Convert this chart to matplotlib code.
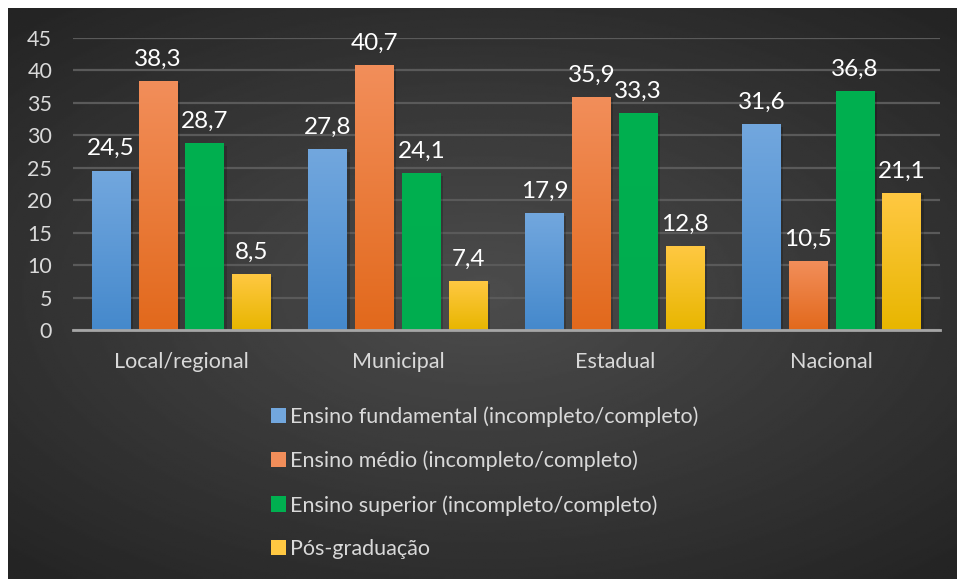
import matplotlib.pyplot as plt
import numpy as np
from matplotlib.colors import LinearSegmentedColormap

plt.rcParams['font.family'] = ['Lato', 'DejaVu Sans']

# Data
categories = ['Local/regional', 'Municipal', 'Estadual', 'Nacional']
series_names = ['Ensino fundamental (incompleto/completo)',
                'Ensino médio (incompleto/completo)',
                'Ensino superior (incompleto/completo)',
                'Pós-graduação']
fundamental = [24.5, 27.8, 17.9, 31.6]
medio = [38.3, 40.7, 35.9, 10.5]
superior = [28.7, 24.1, 33.3, 36.8]
pos = [8.5, 7.4, 12.8, 21.1]
yticks = [0, 5, 10, 15, 20, 25, 30, 35, 40, 45]

series = [fundamental, medio, superior, pos]
# (top colour, bottom colour) for each series
grads = [('#72a7de', '#4589cc'),
         ('#f28e5a', '#e2691c'),
         ('#00b050', '#00ad4f'),
         ('#ffc842', '#e8b600')]

W, H = 958, 579
fig = plt.figure(figsize=(W / 100, H / 100), dpi=100)
fig.patch.set_facecolor('white')

# Dark radial background
bg = fig.add_axes([8 / W, 0, (957 - 8) / W, (H - 8) / H])
bg.set_axis_off()
yy, xx = np.mgrid[-1:1:300j, -1:1:500j]
r = np.sqrt((xx * 0.9) ** 2 + (yy * 1.0) ** 2)
bg.imshow(0.30 - 0.12 * np.clip(r, 0, 1.3), cmap='gray', vmin=0, vmax=1,
          aspect='auto', extent=[0, 1, 0, 1])
bg.set_xlim(0, 1)
bg.set_ylim(0, 1)

ax = fig.add_axes([73 / W, 1 - 330 / H, (940 - 73) / W, (330 - 38) / H])
ax.patch.set_alpha(0)

x = np.arange(len(categories))
width = 0.179
step = 0.216
offsets = (np.arange(4) - 1.5) * step

for i, (vals, (ctop, cbot)) in enumerate(zip(series, grads)):
    cmap = LinearSegmentedColormap.from_list('g%d' % i, [cbot, ctop])
    bars = ax.bar(x + offsets[i], vals, width, color=ctop, label=series_names[i],
                  zorder=3, linewidth=0)
    for b, v in zip(bars, vals):
        x0, w, h = b.get_x(), b.get_width(), b.get_height()
        # soft shadow
        ax.bar(x0 + w / 2 + 0.006, h, w + 0.01, bottom=-0.3, color='black',
               alpha=0.18, zorder=2, linewidth=0)
        grad = np.linspace(0, 1, 100).reshape(-1, 1)
        ax.imshow(grad, cmap=cmap, origin='lower', aspect='auto',
                  extent=[x0, x0 + w, 0, h], zorder=3.5)
        ax.text(x0 + w / 2, h + 1.8, ('%.1f' % v).replace('.', ','),
                ha='center', va='bottom', color='white', fontsize=17.5,
                zorder=5)

ax.set_xlim(-0.5, 3.5)
ax.set_ylim(0, 45)
ax.set_yticks(yticks)
ax.set_xticks(x)
ax.set_xticklabels(categories)
ax.tick_params(axis='both', length=0, colors='#d9d9d9', labelsize=15.5)
ax.tick_params(axis='x', pad=16)
ax.tick_params(axis='y', pad=15)
ax.grid(axis='y', color='#5a5a5a', linewidth=1.6, zorder=1)
for s in ['top', 'right', 'left']:
    ax.spines[s].set_visible(False)
ax.spines['bottom'].set_color('#a6a6a6')
ax.spines['bottom'].set_linewidth(2)
ax.spines['bottom'].set_zorder(6)

leg = fig.legend(loc='upper left', bbox_to_anchor=(252 / W, 1 - 387 / H),
                 frameon=False, fontsize=15.5, labelcolor='#d9d9d9',
                 handlelength=0.7, handleheight=0.7, handletextpad=0.15,
                 labelspacing=1.1)

fig.savefig('out.png', dpi=100)
